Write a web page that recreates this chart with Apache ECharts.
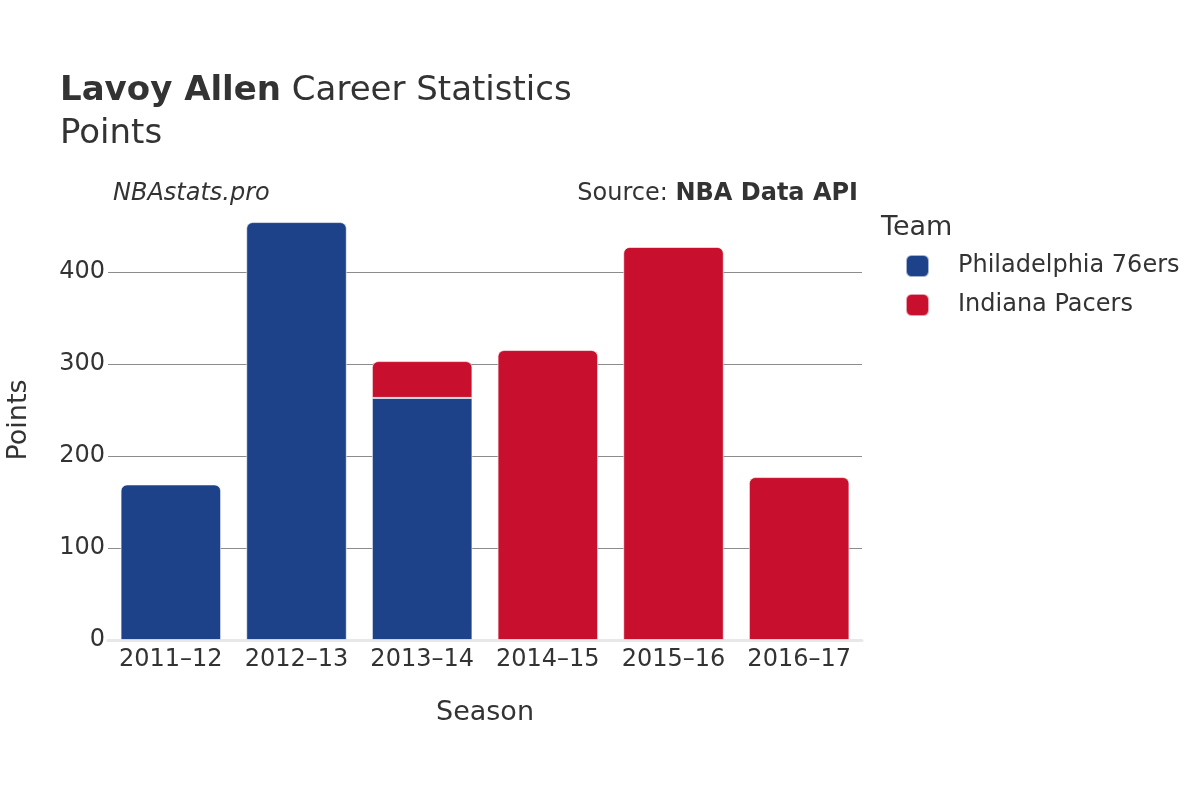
<!DOCTYPE html>
<html>
<head>
<meta charset="utf-8">
<script src="https://cdn.jsdelivr.net/npm/echarts@6/dist/echarts.min.js"></script>
<style>html,body{margin:0;padding:0;background:#fff;}#chart{width:1200px;height:800px;}</style>
</head>
<body>
<div id="chart"></div>
<script>
const seasons = ['2011–12', '2012–13', '2013–14', '2014–15', '2015–16', '2016–17'];
const teamNames = ['Philadelphia 76ers', 'Indiana Pacers'];
const teamColors = ['#1d428a', '#c8102e'];
const phiPoints = [169, 454, 263, null, null, null];
const indPoints = [null, null, 40, 315, 427, 177];
const yTicks = [0, 100, 200, 300, 400];

const FONT = 'DejaVu Sans';
const TXT = '#333';
const R = 6;

function seriesData(vals, topOf) {
  return vals.map((v, i) => {
    if (v == null) return null;
    const isTop = topOf(i);
    return { value: v, itemStyle: { borderRadius: isTop ? [R, R, 0, 0] : 0 } };
  });
}

const chart = echarts.init(document.getElementById('chart'), null, { renderer: 'canvas' });
chart.setOption({
  animation: false,
  backgroundColor: '#fff',
  textStyle: { fontFamily: FONT, color: TXT },
  title: [
    { text: '{b|Lavoy Allen} Career Statistics', left: 60, top: 74, padding: 0,
      textStyle: { fontFamily: FONT, fontSize: 34, fontWeight: 'normal', color: TXT,
        rich: { b: { fontFamily: FONT, fontSize: 34, fontWeight: 'bold', color: TXT } } } },
    { text: 'Points', left: 60, top: 117, padding: 0,
      textStyle: { fontFamily: FONT, fontSize: 34, fontWeight: 'normal', color: TXT } },
    { text: 'NBAstats.pro', left: 113, top: 182, padding: 0,
      textStyle: { fontFamily: FONT, fontSize: 24, fontStyle: 'italic', fontWeight: 'normal', color: TXT } },
    { text: 'Source: {b|NBA Data API}', right: 342, top: 182, padding: 0,
      textStyle: { fontFamily: FONT, fontSize: 24, fontWeight: 'normal', color: TXT,
        rich: { b: { fontFamily: FONT, fontSize: 24, fontWeight: 'bold', color: TXT } } } },
    { text: 'Team', left: 881, top: 214, padding: 0,
      textStyle: { fontFamily: FONT, fontSize: 27, fontWeight: 'normal', color: TXT } }
  ],
  legend: {
    orient: 'vertical', left: 905, top: 254, padding: 0,
    itemWidth: 23, itemHeight: 22, itemGap: 15,
    icon: 'roundRect',
    data: teamNames,
    textStyle: { fontFamily: FONT, fontSize: 24, color: TXT, padding: [0, 0, 0, 24] }
  },
  grid: { left: 108, right: 338, top: 200, bottom: 160, containLabel: false, outerBoundsMode: 'none' },
  xAxis: {
    type: 'category', data: seasons,
    name: 'Season', nameLocation: 'middle', nameGap: 59,
    nameTextStyle: { fontFamily: FONT, fontSize: 27, color: TXT },
    axisLine: { show: true, lineStyle: { color: '#e8e8e8', width: 3 } },
    axisTick: { show: false },
    axisLabel: { fontFamily: FONT, fontSize: 24, color: TXT, margin: 8, interval: 0 }
  },
  yAxis: {
    type: 'value', min: 0, max: 478, interval: 100,
    name: 'Points', nameLocation: 'middle', nameGap: 76,
    nameTextStyle: { fontFamily: FONT, fontSize: 27, color: TXT },
    axisLine: { show: false }, axisTick: { show: false },
    axisLabel: { fontFamily: FONT, fontSize: 24, color: TXT, margin: 3, padding: [4, 0, 0, 0], showMaxLabel: false },
    splitLine: { show: true, showMinLine: false, showMaxLine: false, lineStyle: { color: '#8c8c8c', width: 1 } }
  },
  series: [
    { name: teamNames[0], type: 'bar', stack: 'pts', barCategoryGap: '20%',
      itemStyle: { color: teamColors[0], borderColor: 'rgba(255,255,255,0.6)', borderWidth: 1 },
      data: seriesData(phiPoints, i => indPoints[i] == null) },
    { name: teamNames[1], type: 'bar', stack: 'pts', barCategoryGap: '20%',
      itemStyle: { color: teamColors[1], borderColor: 'rgba(255,255,255,0.6)', borderWidth: 1 },
      data: seriesData(indPoints, i => true) }
  ]
});
</script>
</body>
</html>
